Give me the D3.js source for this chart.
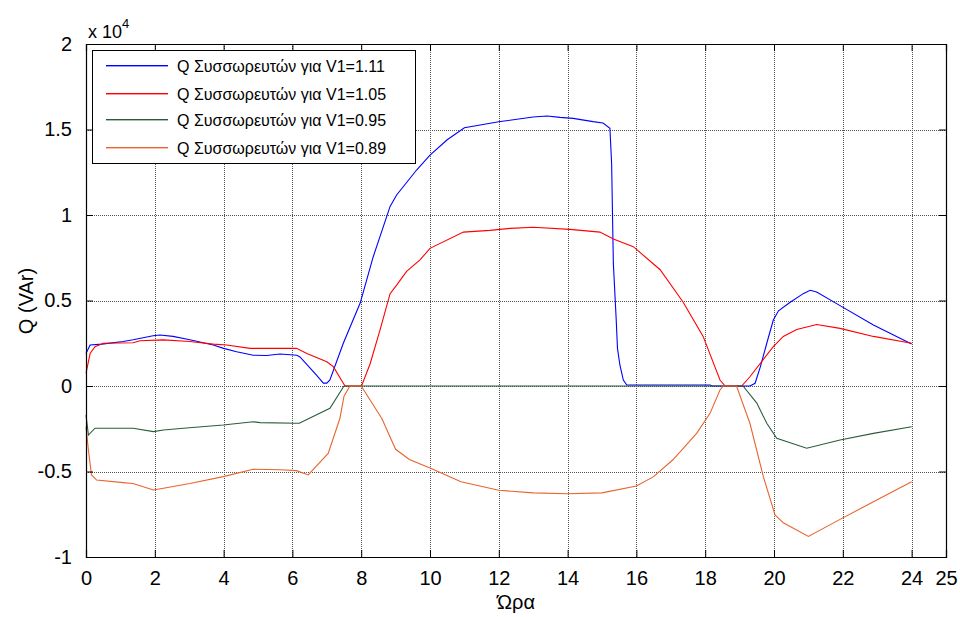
<!DOCTYPE html>
<html>
<head>
<meta charset="utf-8">
<script src="https://cdn.jsdelivr.net/npm/d3@7"></script>
<style>
  html, body { margin: 0; padding: 0; background: #fff; }
  svg { display: block; font-family: "Liberation Sans", Arial, sans-serif; }
</style>
</head>
<body>
<svg id="chart" width="960" height="617"></svg>
<script>
// ---------- data (Q in VAr, time in hours) ----------
const seriesNames = [
  "Q Συσσωρευτών για V1=1.11",
  "Q Συσσωρευτών για V1=1.05",
  "Q Συσσωρευτών για V1=0.95",
  "Q Συσσωρευτών για V1=0.89"
];
const seriesColors = ["#0000ff", "#ff0000", "#2b5b3c", "#e8642e"];

const hours111 = [0, 0.12, 0.46, 1.08, 1.37, 1.95, 2.15, 2.53, 3.02, 3.7, 4.0, 4.38, 4.86, 5.25, 5.64, 6.13, 6.22, 6.7, 6.9, 7.0, 7.09, 7.48, 7.97, 8.35, 8.84, 9.03, 9.61, 10.0, 10.5, 11.0, 12.0, 13.0, 13.4, 13.78, 14.16, 14.74, 15.03, 15.23, 15.28, 15.33, 15.41, 15.45, 15.52, 15.62, 15.72, 18.14, 18.2, 19.3, 19.45, 19.6, 19.79, 19.98, 20.13, 20.47, 20.85, 21.05, 21.24, 21.92, 22.89, 24];
const q111 = [1900, 2400, 2450, 2600, 2700, 2940, 2980, 2900, 2700, 2400, 2200, 2000, 1800, 1780, 1870, 1800, 1700, 640, 170, 170, 350, 2500, 4850, 7560, 10500, 11170, 12630, 13500, 14400, 15100, 15450, 15730, 15790, 15710, 15650, 15460, 15380, 15070, 13000, 7170, 4000, 2200, 1230, 350, 60, 60, 0, 0, 160, 1100, 2500, 3860, 4400, 4900, 5400, 5600, 5500, 4700, 3570, 2450];

const hours105 = [0, 0.12, 0.26, 0.5, 1.37, 1.57, 2.25, 3.02, 3.7, 4.09, 4.77, 6.12, 6.42, 7.0, 7.19, 7.48, 7.53, 8.01, 8.26, 8.55, 8.84, 9.03, 9.32, 9.71, 10.0, 10.97, 11.74, 12.33, 13.0, 14.07, 14.94, 15.33, 15.91, 16.69, 17.36, 17.94, 18.43, 18.58, 19.06, 19.3, 19.98, 20.27, 20.66, 21.24, 21.92, 22.89, 24];
const q105 = [740, 1900, 2300, 2500, 2530, 2650, 2700, 2600, 2450, 2400, 2200, 2200, 1900, 1420, 1130, 160, 0, 0, 1300, 3300, 5400, 5900, 6700, 7370, 8050, 9000, 9100, 9220, 9280, 9160, 9000, 8600, 8150, 6800, 4900, 2900, 350, 0, 0, 540, 2300, 2900, 3300, 3600, 3370, 2900, 2500];

const hours095 = [0, 0.07, 0.26, 1.37, 1.96, 2.25, 2.83, 3.99, 4.86, 5.06, 6.12, 6.2, 7.09, 7.5, 19.1, 19.5, 19.79, 20.08, 20.95, 21.92, 22.89, 24];
const q095 = [-1700, -2870, -2470, -2470, -2670, -2570, -2470, -2280, -2090, -2140, -2180, -2180, -1300, 0, 0, -1000, -2180, -3060, -3640, -3160, -2770, -2380];

const hours089 = [0, 0.07, 0.16, 0.31, 1.08, 1.37, 1.96, 2.25, 3.02, 3.99, 4.86, 5.64, 6.12, 6.46, 7.04, 7.38, 7.5, 7.67, 8.0, 8.6, 9.0, 9.4, 10.0, 10.9, 12.0, 13.0, 14.0, 15.0, 16.0, 16.5, 17.07, 17.75, 18.14, 18.43, 18.53, 18.91, 19.3, 19.69, 20.03, 20.27, 21.0, 21.92, 22.89, 24];
const q089 = [-2400, -3740, -5200, -5500, -5650, -5700, -6080, -5980, -5700, -5300, -4870, -4900, -4950, -5200, -3940, -1900, -600, 0, 0, -1900, -3700, -4300, -4800, -5600, -6100, -6250, -6300, -6250, -5850, -5300, -4300, -2770, -1600, -230, 0, 0, -2180, -5300, -7540, -8000, -8800, -7800, -6770, -5600];

const xTicks = [0, 2, 4, 6, 8, 10, 12, 14, 16, 18, 20, 22, 24, 25];
const yTicks = [-10000, -5000, 0, 5000, 10000, 15000, 20000];
const xLabel = "Ώρα";
const yLabel = "Q (VAr)";

// ---------- layout ----------
const svg = d3.select("#chart");
const L = 86, R = 946, T = 44, B = 557;
const x = d3.scaleLinear().domain([0, 25]).range([L, R]);
const y = d3.scaleLinear().domain([-10000, 20000]).range([B, T]);

const series = [
  {name: seriesNames[0], color: seriesColors[0], hours: hours111, vals: q111},
  {name: seriesNames[1], color: seriesColors[1], hours: hours105, vals: q105},
  {name: seriesNames[2], color: seriesColors[2], hours: hours095, vals: q095},
  {name: seriesNames[3], color: seriesColors[3], hours: hours089, vals: q089}
];

// grid
const grid = svg.append("g").attr("class", "grid");
xTicks.filter(t => t > 0 && t < 25).forEach(t => {
  const px = Math.round(x(t)) + 0.5;
  grid.append("line").attr("x1", px).attr("x2", px).attr("y1", T).attr("y2", B)
    .attr("stroke", "#555").attr("stroke-width", 1).attr("stroke-dasharray", "1,1");
});
yTicks.filter(t => t > -10000 && t < 20000).forEach(t => {
  const py = Math.round(y(t)) + 0.5;
  grid.append("line").attr("x1", L).attr("x2", R).attr("y1", py).attr("y2", py)
    .attr("stroke", "#555").attr("stroke-width", 1).attr("stroke-dasharray", "1,1");
});

// data lines
const line = d3.line().x(d => x(d[0])).y(d => y(d[1]));
const plot = svg.append("g").attr("class", "plot");
series.forEach(s => {
  plot.append("path")
    .attr("d", line(s.hours.map((h, i) => [h, s.vals[i]])))
    .attr("fill", "none").attr("stroke", s.color).attr("stroke-width", 1.1);
});

// axes (ticks inside, box)
const tickLen = 7;
const fmtY = d => String(d / 10000);
const axB = d3.axisBottom(x).tickValues(xTicks).tickSize(-tickLen).tickPadding(14).tickFormat(d => String(d));
const axT = d3.axisTop(x).tickValues(xTicks).tickSize(-tickLen).tickFormat("");
const axLft = d3.axisLeft(y).tickValues(yTicks).tickSize(-tickLen).tickPadding(14).tickFormat(fmtY);
const axRgt = d3.axisRight(y).tickValues(yTicks).tickSize(-tickLen).tickFormat("");

function styleAxis(sel) {
  sel.select(".domain").attr("stroke", "#000").attr("stroke-width", 1.2);
  sel.selectAll(".tick line").attr("stroke", "#000");
  sel.selectAll("text").attr("font-size", 20).attr("fill", "#000")
     .attr("font-family", "'Liberation Sans', Arial, sans-serif");
}
svg.append("g").attr("transform", `translate(0,${B})`).call(axB).call(styleAxis);
svg.append("g").attr("transform", `translate(0,${T})`).call(axT).call(styleAxis);
svg.append("g").attr("transform", `translate(${L},0)`).call(axLft).call(styleAxis);
svg.append("g").attr("transform", `translate(${R},0)`).call(axRgt).call(styleAxis);

// exponent label
const ex = svg.append("text").attr("x", 88).attr("y", 38).attr("font-size", 18).attr("fill", "#000");
ex.append("tspan").text("x 10");
ex.append("tspan").attr("dy", -10).attr("font-size", 13).text("4");

// axis labels
svg.append("text").attr("x", 516).attr("y", 609).attr("text-anchor", "middle")
  .attr("font-size", 20).attr("fill", "#000").text(xLabel);
svg.append("text").attr("transform", "translate(33,301) rotate(-90)").attr("text-anchor", "middle")
  .attr("font-size", 20).attr("fill", "#000").text(yLabel);

// legend
const lg = svg.append("g").attr("class", "legend");
lg.append("rect").attr("x", 92.5).attr("y", 50.5).attr("width", 323).attr("height", 113)
  .attr("fill", "#fff").attr("stroke", "#000").attr("stroke-width", 1);
const rowsY = [65, 93, 119, 147];
series.forEach((s, i) => {
  lg.append("rect").attr("x", 106).attr("y", rowsY[i]).attr("width", 62).attr("height", 1.4)
    .attr("fill", s.color);
  lg.append("text").attr("x", 177).attr("y", rowsY[i] + 7).attr("font-size", 16).attr("fill", "#000")
    .text(s.name);
});
</script>
</body>
</html>
